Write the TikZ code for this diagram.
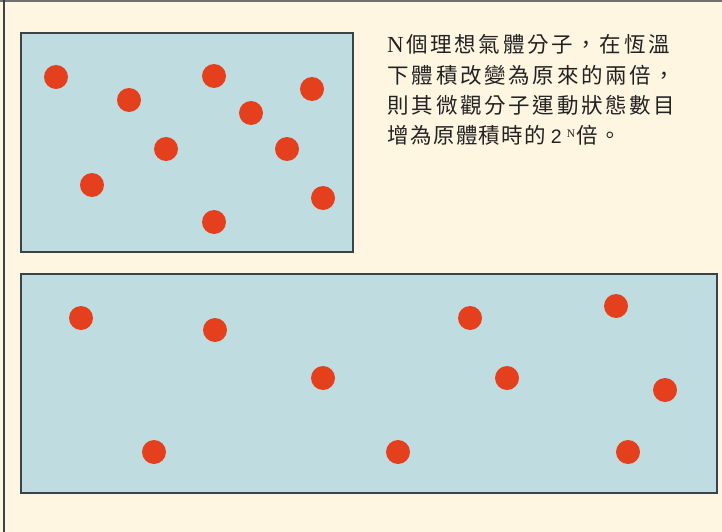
\documentclass[tikz,border=0pt]{standalone}
\usepackage{fontspec}
\newfontfamily\cjk[LetterSpace=12.5]{Noto Sans CJK TC}
\newfontfamily\cjklast[LetterSpace=6]{Noto Sans CJK TC}
\newfontfamily\serifN{Liberation Serif}
\newfontfamily\sansD{Liberation Sans}
\definecolor{bgc}{HTML}{FFF6E2}
\definecolor{boxc}{HTML}{BFDDE0}
\definecolor{edgec}{HTML}{3A4448}
\definecolor{dotc}{HTML}{E5401E}
\definecolor{topc}{HTML}{707070}
\definecolor{txtc}{HTML}{222222}
\tikzset{
  x=1pt,y=-1pt,
  gasbox/.style={draw=edgec,line width=2pt,fill=boxc},
  molecule/.style={circle,fill=dotc,minimum size=24pt,inner sep=0pt},
  caption/.style={anchor=base west,inner sep=0pt,text=txtc,font=\fontsize{21.5}{29}\selectfont\cjk}
}
\begin{document}
\begin{tikzpicture}
\useasboundingbox (0,0) rectangle (722,532);
\fill[bgc] (0,0) rectangle (722,532);
\draw[topc,line width=1.6pt] (0,0.8) -- (722,0.8);
\draw[edgec,line width=1.5pt] (3.8,0) -- (3.8,532);
\draw[gasbox] (20.5,33.5) rectangle (352.5,251.5);
\draw[gasbox] (20.5,273.5) rectangle (716.5,492.5);
% small box molecules
\foreach \n/\x/\y in {a/56/77,b/129/100,c/214/76,d/312/89,e/251/113,f/166/149,g/287/149,h/92/185,i/323/198,j/214/222}
  \node[molecule] (s\n) at (\x,\y) {};
% large box molecules
\foreach \n/\x/\y in {a/81/318,b/215/330,c/470/318,d/616/306,e/323/378,f/507/378,g/665/390,h/154/452,i/398/452,j/628/452}
  \node[molecule] (l\n) at (\x,\y) {};
\node[caption] (t1) at (387,53) {{\serifN\fontsize{23}{23}\selectfont N}\hspace{2.5pt}個理想氣體分子，在恆溫};
\node[caption] (t2) at (387.5,83.2) {下體積改變為原來的兩倍，};
\node[caption] (t3) at (387.5,113.4) {則其微觀分子運動狀態數目};
\node[caption,font=\fontsize{21.5}{29}\selectfont\cjklast] (t4) at (387.5,143.5) {增為原體積時的\hspace{5pt}{\sansD\fontsize{19.5}{19.5}\selectfont 2}\hspace{5pt}\raisebox{6pt}{\serifN\fontsize{11.5}{11.5}\selectfont N}\hspace{1.5pt}倍。};
\end{tikzpicture}
\end{document}
